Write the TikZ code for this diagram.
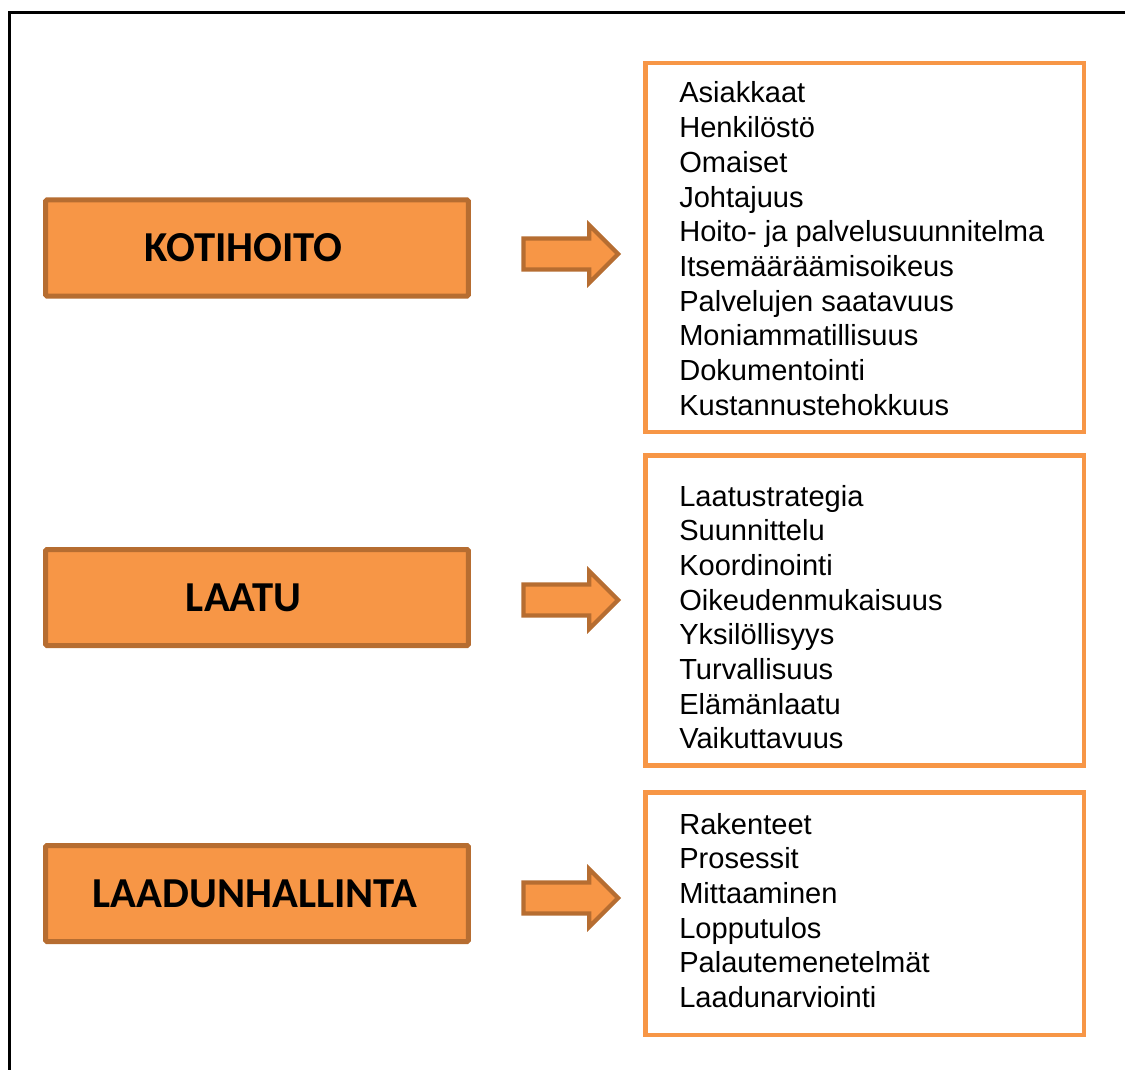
\documentclass[tikz,border=0pt]{standalone}
\usepackage{fontspec}
\setmainfont{Liberation Sans}
\newfontfamily\headfont{Carlito}
\usetikzlibrary{shapes.arrows}

\definecolor{boxorange}{HTML}{F79646}
\definecolor{boxedge}{HTML}{B66D31}

\tikzset{
  topic/.style={draw=boxedge, fill=boxorange, line width=3.75pt, rounded corners=1pt,
    minimum width=317pt, minimum height=72pt, inner sep=0pt,
    font=\headfont\bfseries\fontsize{32}{38}\selectfont},
  listbox/.style={draw=boxorange, line width=3.4pt, minimum width=329pt, inner sep=0pt},
  item/.style={anchor=base west, inner sep=0pt, font=\fontsize{21.8}{26}\selectfont},
  blockarrow/.style={single arrow, draw=boxedge, fill=boxorange, line width=3.2pt,
    minimum height=71pt, inner xsep=0pt, inner ysep=10pt, single arrow head extend=10pt}
}

\begin{document}
\begin{tikzpicture}[x=0.75pt, y=-0.75pt]
    \useasboundingbox (0,0) rectangle (1125,1070);

    % Frame
    \draw[line width=1.6pt] (9.5,1070) |- (1125,12.5);

    % Topics on the left
    \node[topic] (kotihoito) at (257,248) {\hspace*{-20pt}KOTIHOITO};
    \node[topic] (laatu) at (257,597.5) {\hspace*{-20pt}LAATU};
    \node[topic] (hallinta) at (257,893.5) {\hspace*{-3pt}LAADUNHALLINTA};

    % Lists on the right
    \node[listbox, minimum height=277pt] (kotilist) at (864.75,247.5) {};
    \node[listbox, minimum height=232.5pt] (laatulist) at (864.75,610.5) {};
    \node[listbox, minimum height=182pt] (hallintalist) at (864.75,913.75) {};

    % Arrows between
    \node[blockarrow] (arr1) at (563,254) {};
    \node[blockarrow] (arr2) at (563,600) {};
    \node[blockarrow] (arr3) at (563,898) {};

    % List items
    \foreach \txt [count=\i] in {Asiakkaat, Henkilöstö, Omaiset, Johtajuus,
        Hoito- ja palvelusuunnitelma, Itsemääräämisoikeus, Palvelujen saatavuus,
        Moniammatillisuus, Dokumentointi, Kustannustehokkuus}
      \node[item] (k\i) at (679,{103+(\i-1)*34.7}) {\txt};
    \foreach \txt [count=\i] in {Laatustrategia, Suunnittelu, Koordinointi,
        Oikeudenmukaisuus, Yksilöllisyys, Turvallisuus, Elämänlaatu, Vaikuttavuus}
      \node[item] (l\i) at (679,{506+(\i-1)*34.7}) {\txt};
    \foreach \txt [count=\i] in {Rakenteet, Prosessit, Mittaaminen, Lopputulos,
        Palautemenetelmät, Laadunarviointi}
      \node[item] (h\i) at (679,{834+(\i-1)*34.7}) {\txt};
\end{tikzpicture}
\end{document}
